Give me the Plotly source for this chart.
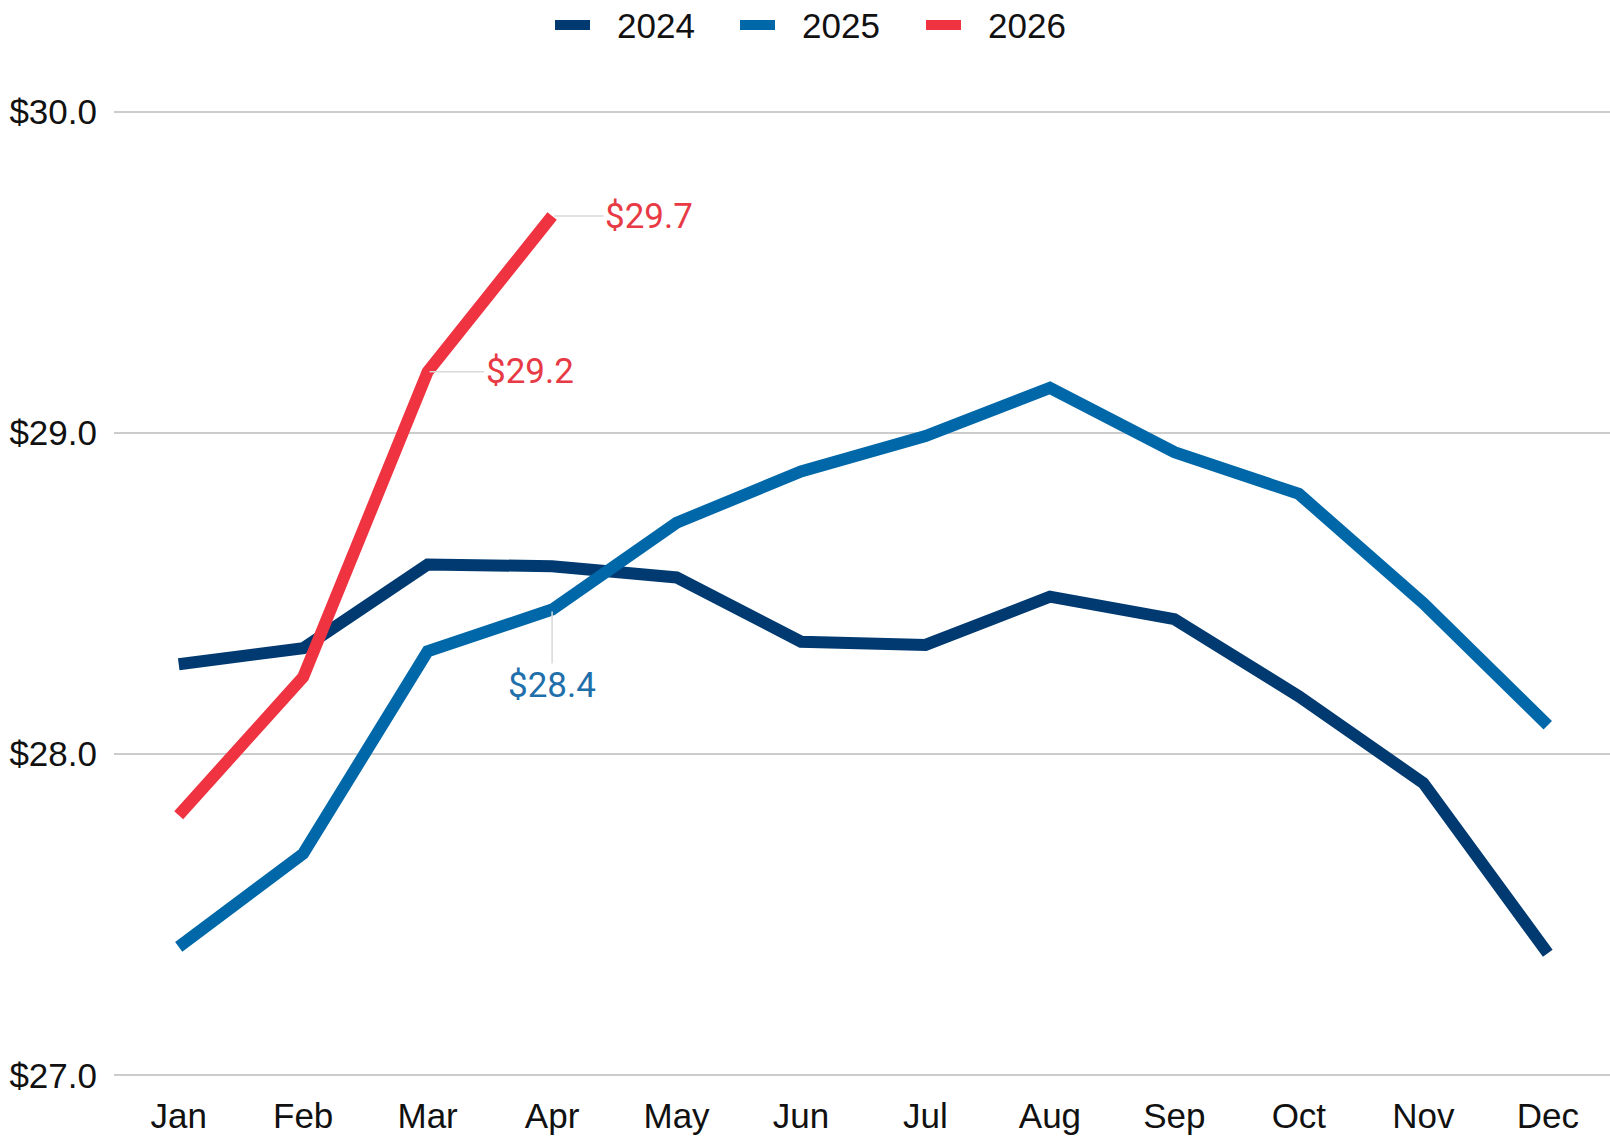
import plotly.graph_objects as go

months = ["Jan", "Feb", "Mar", "Apr", "May", "Jun", "Jul", "Aug", "Sep", "Oct", "Nov", "Dec"]
vals_2024 = [28.28, 28.33, 28.59, 28.585, 28.55, 28.35, 28.34, 28.49, 28.42, 28.18, 27.91, 27.38]
vals_2025 = [27.40, 27.69, 28.32, 28.45, 28.72, 28.88, 28.99, 29.14, 28.94, 28.81, 28.47, 28.09]
vals_2026 = [27.81, 28.24, 29.19, 29.675]

series = [
    ("2024", vals_2024, "#003a70"),
    ("2025", vals_2025, "#0068a9"),
    ("2026", vals_2026, "#ef3340"),
]

W, H = 1610, 1139
ML, MR, MT, MB = 114, 0, 110, 62
PW, PH = W - ML - MR, H - MT - MB


def px_x(p):
    return (p - ML) / PW


def px_y(p):
    return (H - MB - p) / PH


fig = go.Figure()
for name, vals, color in series:
    fig.add_trace(go.Scatter(
        x=months[:len(vals)], y=vals, name=name, mode="lines",
        line=dict(color=color, width=12), showlegend=False,
    ))

# legend drawn manually (thick swatches like the reference)
legend_swatch_left = [555, 740, 926]
legend_y = 25
for (name, vals, color), sx in zip(series, legend_swatch_left):
    fig.add_shape(type="rect", xref="paper", yref="paper",
                  x0=px_x(sx), x1=px_x(sx + 35), y0=px_y(legend_y + 5), y1=px_y(legend_y - 5),
                  fillcolor=color, line=dict(width=0))
    fig.add_annotation(xref="paper", yref="paper", x=px_x(sx + 60), y=px_y(legend_y),
                       xanchor="left", yanchor="middle", text=name, showarrow=False,
                       font=dict(size=35, color="#111111"))

label_font = "Roboto, Arial, sans-serif"
ann = [
    (months[3], vals_2026[3], "$29.7", "#e83a45", 97, 0),
    (months[2], vals_2026[2], "$29.2", "#e83a45", 102, 0),
    (months[3], vals_2025[3], "$28.4", "#1f6fab", 0, 76),
]
for x, y, text, color, ax, ay in ann:
    fig.add_annotation(
        x=x, y=y, text=text, showarrow=True, arrowhead=0, arrowwidth=1.5,
        arrowcolor="#d9d9d9", ax=ax, ay=ay, standoff=2,
        font=dict(family=label_font, size=35, color=color),
    )

fig.update_layout(
    width=W, height=H,
    margin=dict(l=ML, r=MR, t=MT, b=MB, autoexpand=False),
    plot_bgcolor="white", paper_bgcolor="white",
    font=dict(family="Liberation Sans, Arial, sans-serif", size=35, color="#111111"),
    showlegend=False,
    xaxis=dict(range=[-0.52, 11.5], showgrid=False, showline=False, zeroline=False,
               ticks="", ticklabelstandoff=15, automargin=False),
    yaxis=dict(range=[26.995, 30.005], dtick=1, tick0=27, tickprefix="$", tickformat=".1f",
               showgrid=True, gridcolor="#cccccc", gridwidth=2, zeroline=False,
               showline=False, ticks="", ticklabelstandoff=16, automargin=False),
)

fig.write_html("out.html", config={"displayModeBar": False},
               post_script="document.body.style.margin='0';document.body.style.overflow='hidden';")
